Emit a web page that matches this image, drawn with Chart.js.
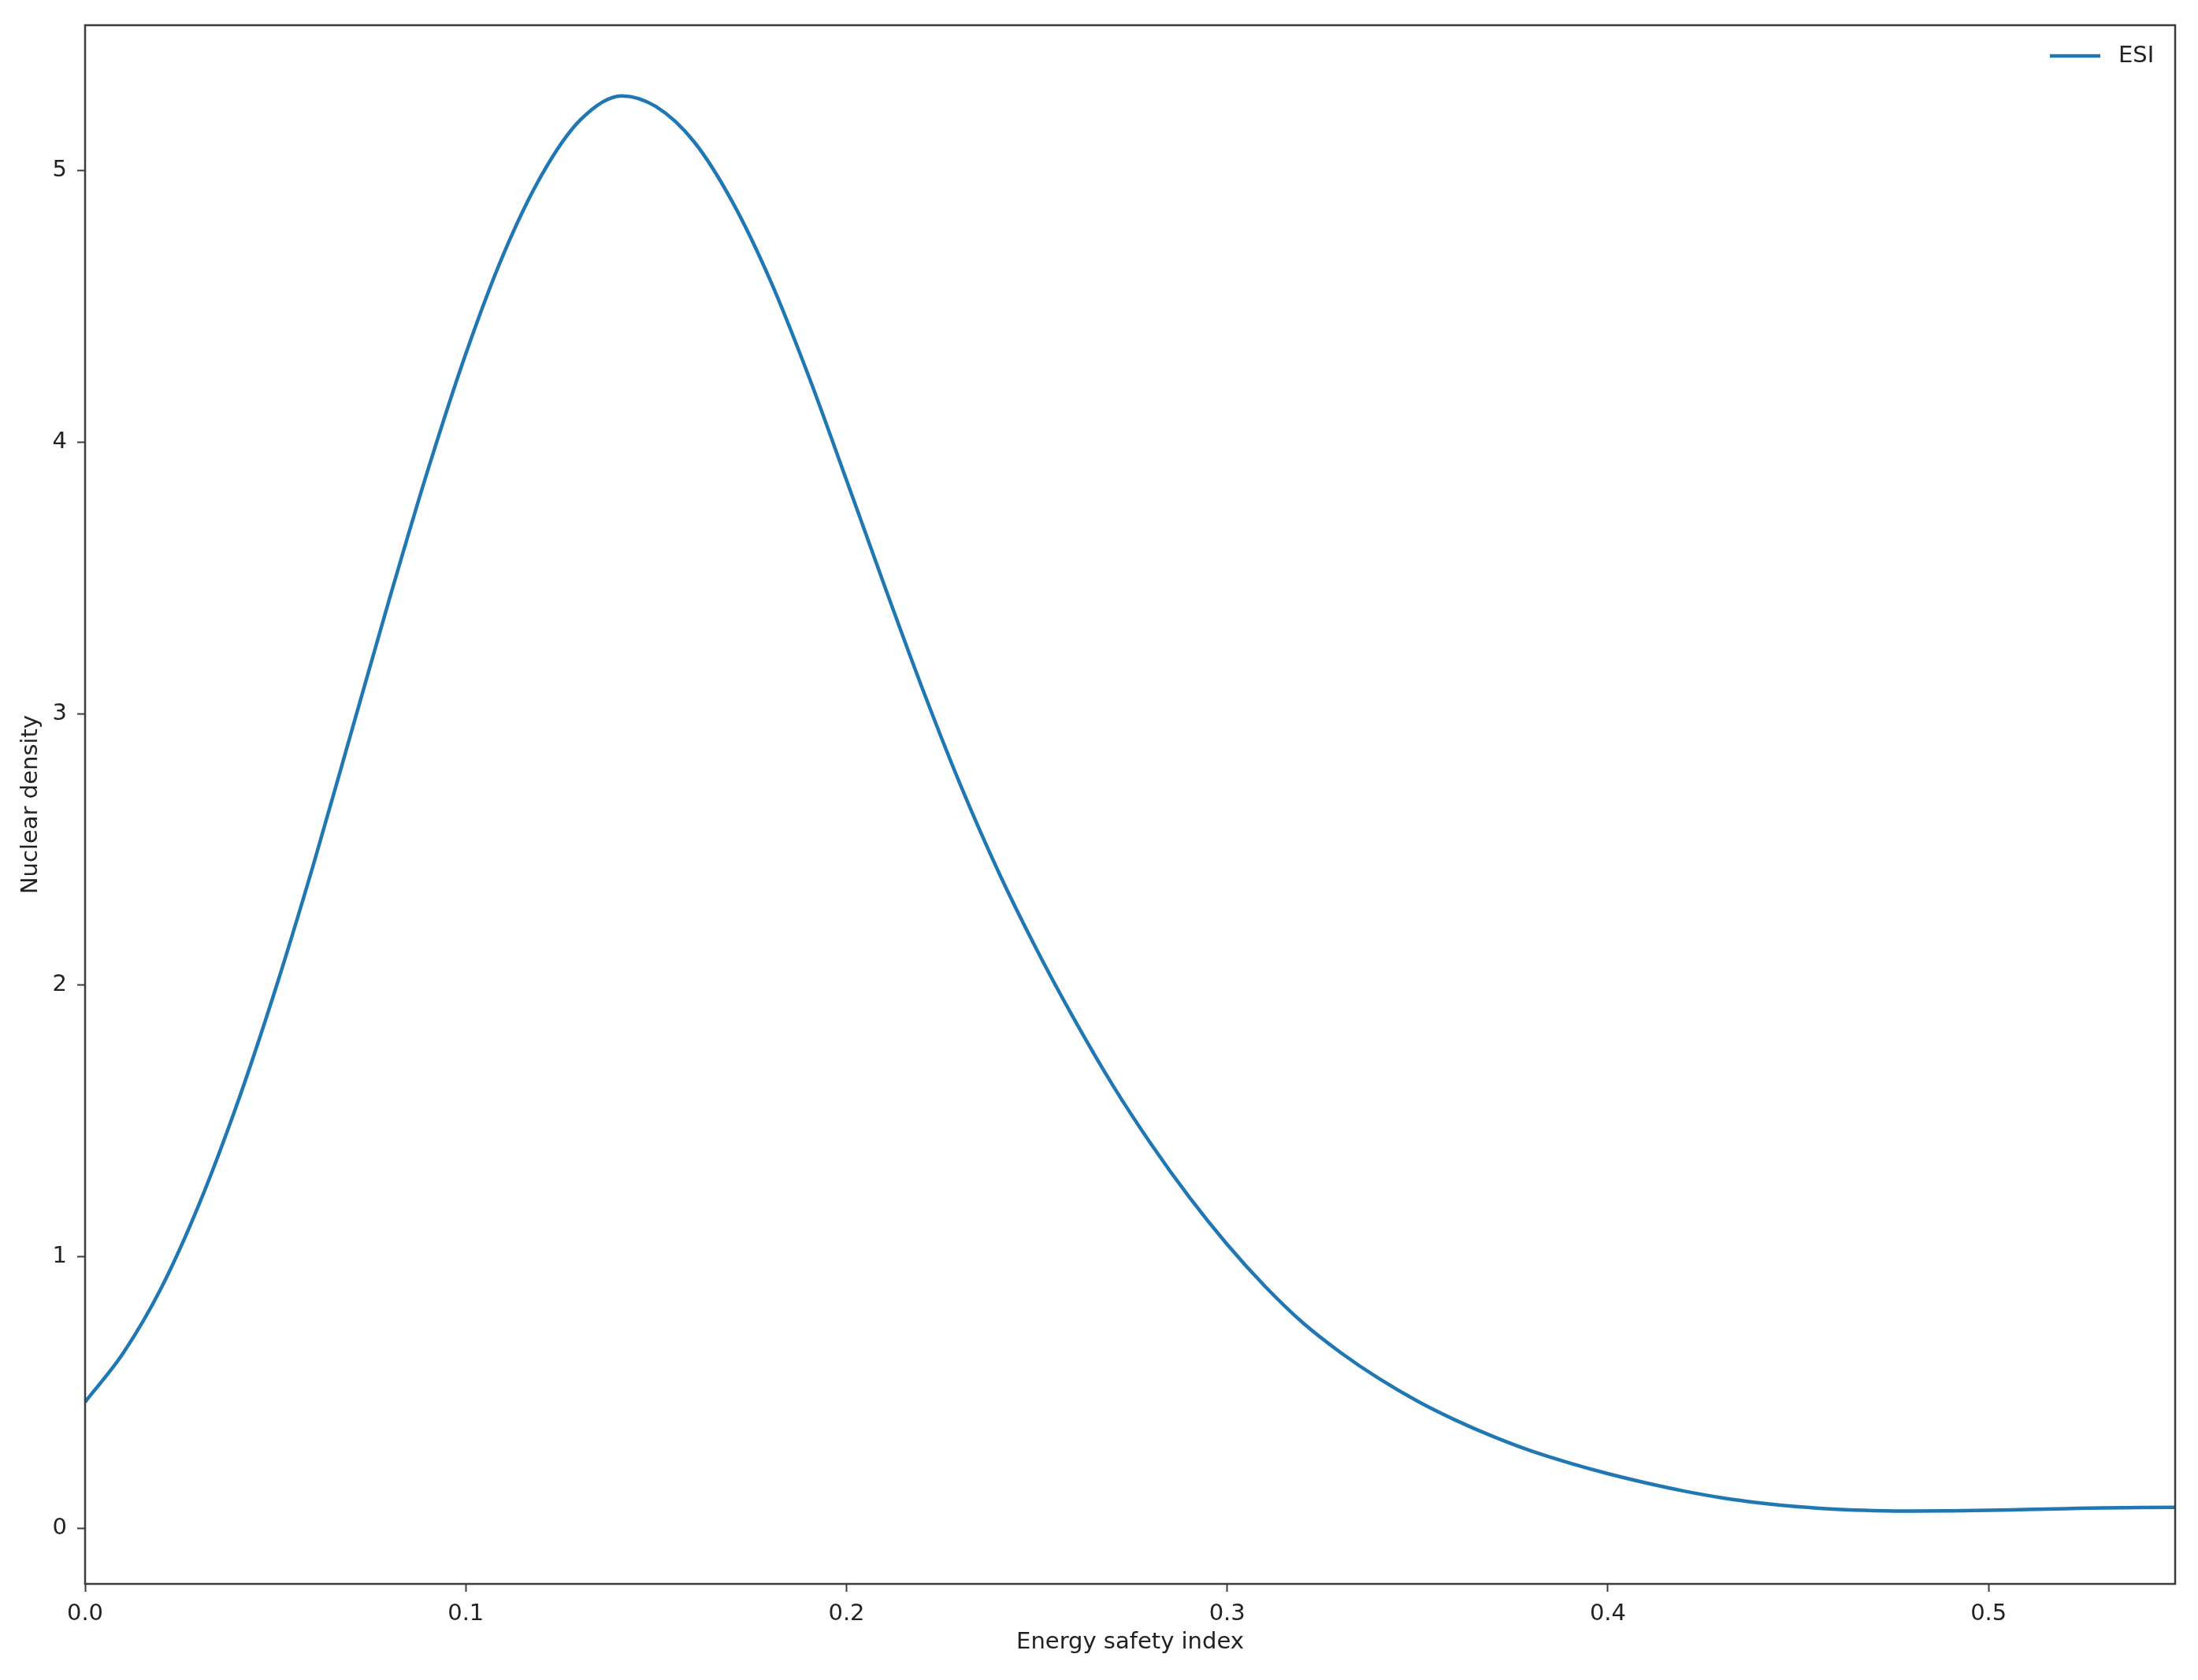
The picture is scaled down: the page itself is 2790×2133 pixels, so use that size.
<!DOCTYPE html>
<html>
<head>
<meta charset="utf-8">
<script src="https://cdn.jsdelivr.net/npm/chart.js@4.4.1/dist/chart.umd.min.js"></script>
<style>
  html, body { margin: 0; padding: 0; background: #fff; }
  #wrap { width: 2790px; height: 2133px; }
</style>
</head>
<body>
<div id="wrap"><canvas id="kdeChart"></canvas></div>
<script>
// values
const esiX = [0.00, 0.01, 0.02, 0.03, 0.04, 0.05, 0.06, 0.07, 0.08, 0.09,
    0.10, 0.11, 0.12, 0.13, 0.141, 0.15, 0.16, 0.17, 0.18, 0.19,
    0.20, 0.21, 0.22, 0.23, 0.24, 0.25, 0.26, 0.27, 0.28, 0.29,
    0.30, 0.31, 0.32, 0.33, 0.34, 0.35, 0.36, 0.37, 0.38, 0.39,
    0.40, 0.41, 0.42, 0.43, 0.44, 0.45, 0.46, 0.47, 0.48, 0.49,
    0.50, 0.51, 0.52, 0.53, 0.54, 0.55];
const esiDensity = [0.465, 0.645, 0.885, 1.195, 1.565, 1.985, 2.445, 2.935, 3.425, 3.895,
    4.325, 4.695, 4.985, 5.185, 5.275, 5.235, 5.105, 4.885, 4.595, 4.245,
    3.860, 3.470, 3.090, 2.735, 2.415, 2.130, 1.870, 1.630, 1.415, 1.220,
    1.045, 0.890, 0.755, 0.645, 0.550, 0.468, 0.398, 0.337, 0.284, 0.240,
    0.201, 0.167, 0.137, 0.112, 0.093, 0.079, 0.070, 0.065, 0.063, 0.064,
    0.066, 0.069, 0.072, 0.075, 0.076, 0.077];
const xTicks = [0, 0.1, 0.2, 0.3, 0.4, 0.5];
const yTicks = [0, 1, 2, 3, 4, 5];

const lineColor = '#1f77b4';
const textColor = '#222';
const spineColor = '#3c3c3c';
const fontFamily = '"DejaVu Sans", Verdana, sans-serif';
const fontSize = 29;

// matplotlib style frame + legend in the upper right corner of the axes
const framePlugin = {
    id: 'frame',
    afterDatasetsDraw(chart) {
        const a = chart.chartArea;
        const ctx = chart.ctx;
        ctx.save();
        ctx.strokeStyle = spineColor;
        ctx.lineWidth = 2.5;
        ctx.strokeRect(a.left, a.top, a.right - a.left, a.bottom - a.top);

        const ds = chart.data.datasets[0];
        const ly = a.top + 39;
        ctx.strokeStyle = ds.borderColor;
        ctx.lineWidth = ds.borderWidth;
        ctx.beginPath();
        ctx.moveTo(a.right - 159, ly);
        ctx.lineTo(a.right - 95, ly);
        ctx.stroke();
        ctx.fillStyle = textColor;
        ctx.font = fontSize + 'px ' + fontFamily;
        ctx.textAlign = 'left';
        ctx.textBaseline = 'middle';
        ctx.fillText(ds.label, a.right - 72, ly);
        ctx.restore();
    }
};

const points = esiX.map((x, i) => ({ x: x, y: esiDensity[i] }));

const ctx = document.getElementById('kdeChart').getContext('2d');
const kdeChart = new Chart(ctx, {
    type: 'line',
    data: {
        datasets: [{
            label: 'ESI',
            data: points,
            borderColor: lineColor,
            backgroundColor: lineColor,
            borderWidth: 4.5,
            pointRadius: 0,
            fill: false,
            cubicInterpolationMode: 'monotone'
        }]
    },
    options: {
        responsive: true,
        maintainAspectRatio: false,
        animation: false,
        layout: {
            padding: { left: 0, right: 29, top: 32, bottom: 0 }
        },
        plugins: {
            legend: { display: false },
            tooltip: { enabled: false }
        },
        scales: {
            x: {
                type: 'linear',
                min: 0,
                max: 0.549,
                afterBuildTicks: scale => {
                    scale.ticks = xTicks.map(v => ({ value: v }));
                },
                afterFit: scale => { scale.height = 122; },
                border: { display: false },
                grid: {
                    drawOnChartArea: false,
                    drawTicks: true,
                    tickLength: 10,
                    tickColor: spineColor,
                    tickWidth: 2
                },
                ticks: {
                    color: textColor,
                    padding: 11,
                    maxRotation: 0,
                    font: { family: fontFamily, size: fontSize },
                    callback: v => v.toFixed(1)
                },
                title: {
                    display: true,
                    text: 'Energy safety index',
                    color: textColor,
                    padding: { top: 0, bottom: 30 },
                    font: { family: fontFamily, size: fontSize }
                }
            },
            y: {
                type: 'linear',
                min: -0.205,
                max: 5.535,
                afterBuildTicks: scale => {
                    scale.ticks = yTicks.map(v => ({ value: v }));
                },
                afterFit: scale => { scale.width = 108; },
                border: { display: false },
                grid: {
                    drawOnChartArea: false,
                    drawTicks: true,
                    tickLength: 10,
                    tickColor: spineColor,
                    tickWidth: 2
                },
                ticks: {
                    color: textColor,
                    padding: 13,
                    font: { family: fontFamily, size: fontSize },
                    callback: v => String(v)
                },
                title: {
                    display: true,
                    text: 'Nuclear density',
                    color: textColor,
                    padding: { top: 22, bottom: 0 },
                    font: { family: fontFamily, size: fontSize }
                }
            }
        }
    },
    plugins: [framePlugin]
});
</script>
</body>
</html>
